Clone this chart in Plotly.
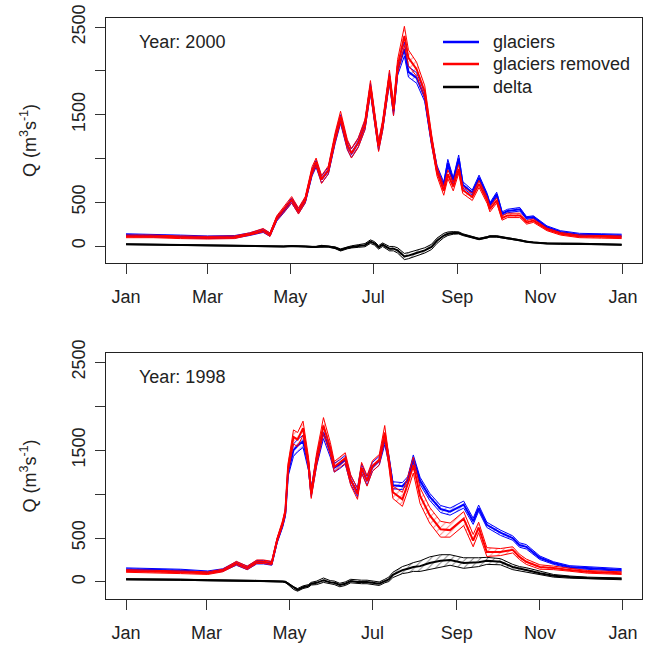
import pandas as pd
import plotly.graph_objects as go

# ---------------- data ----------------
# Year 2000 panel: day offsets from 1 Jan 2000
T_DAYS = [0, 20, 40, 60, 80, 91, 101, 106, 111, 116, 122, 127, 132, 137, 140, 144, 149, 154, 158, 163,
          166, 171, 176, 180, 183, 186, 189, 194, 197, 200, 205, 208, 214, 220, 225, 229, 234, 237, 241, 245,
          248, 255, 260, 266, 268, 273, 277, 281, 290, 295, 300, 310, 320, 334, 350, 365]
T_GLAC = [125, 120, 110, 100, 105, 135, 175, 130, 310, 400, 520, 400, 520, 840, 940, 760, 860, 1220, 1450, 1150,
          1060, 1180, 1380, 1800, 1490, 1140, 1370, 1920, 1540, 2010, 2250, 1990, 1920, 1700, 1200, 880, 690, 950, 740, 1000,
          700, 610, 780, 570, 470, 590, 370, 400, 420, 320, 330, 215, 160, 130, 125, 120]
T_REM = [110, 110, 100, 95, 100, 135, 180, 130, 320, 410, 530, 400, 530, 860, 960, 760, 870, 1240, 1480, 1160,
         1060, 1180, 1390, 1820, 1500, 1140, 1380, 1940, 1560, 2050, 2400, 2150, 2020, 1760, 1220, 850, 630, 820, 680, 880,
         640, 560, 710, 520, 420, 520, 320, 350, 350, 270, 290, 190, 140, 110, 105, 100]
T_DELTA = [20, 15, 10, 5, 3, 0, 0, 0, -5, -5, 0, 0, -5, -10, -10, 0, -5, -20, -45, -20,
           -10, 0, 10, 50, 30, -15, 15, -30, -30, -50, -120, -110, -80, -50, -10, 60, 120, 140, 150, 150,
           130, 100, 80, 100, 110, 110, 100, 95, 65, 50, 40, 30, 25, 25, 20, 15]
# ensemble half-spreads
T_GLAC_SP = [15, 15, 15, 15, 15, 15, 20, 20, 25, 25, 30, 30, 30, 40, 40, 40, 40, 50, 50, 50,
             50, 50, 50, 60, 50, 50, 50, 60, 50, 60, 80, 60, 60, 50, 50, 40, 40, 40, 40, 40,
             35, 30, 30, 30, 25, 25, 20, 20, 20, 15, 15, 15, 15, 15, 15, 15]
T_REM_SP = [15, 15, 15, 15, 15, 15, 20, 20, 25, 30, 35, 35, 35, 45, 45, 45, 45, 55, 60, 55,
            55, 55, 60, 70, 60, 60, 60, 70, 70, 80, 110, 90, 80, 70, 60, 50, 50, 50, 50, 50,
            40, 40, 40, 35, 30, 30, 25, 25, 25, 20, 20, 15, 15, 15, 15, 15]
T_DELTA_SP = [4, 4, 4, 4, 4, 4, 4, 4, 5, 5, 5, 5, 5, 6, 6, 8, 8, 10, 12, 12,
              12, 15, 18, 20, 20, 20, 20, 25, 25, 30, 35, 35, 30, 30, 30, 30, 25, 20, 15, 12,
              10, 8, 8, 8, 8, 8, 8, 6, 6, 6, 5, 5, 5, 5, 5, 5]

# Year 1998 panel: day offsets from 1 Jan 1998
B_DAYS = [0, 20, 40, 60, 71, 81, 89, 96, 101, 107, 111, 115, 117, 119, 123, 126, 130, 134, 136, 140,
          145, 150, 153, 157, 161, 165, 170, 173, 177, 181, 186, 190, 193, 196, 203, 207, 211, 216, 223, 231,
          238, 248, 255, 259, 265, 275, 284, 289, 294, 304, 314, 326, 339, 364]
B_GLAC = [145, 140, 130, 110, 135, 210, 160, 225, 225, 210, 470, 650, 780, 1250, 1500, 1550, 1600, 1330, 1020, 1380,
          1700, 1480, 1300, 1340, 1390, 1160, 1020, 1290, 1150, 1310, 1380, 1620, 1400, 1100, 1090, 1160, 1400, 1150, 970, 830,
          800, 880, 690, 840, 650, 560, 500, 420, 400, 275, 215, 170, 160, 137]
B_REM = [125, 120, 110, 100, 130, 215, 160, 230, 230, 215, 480, 670, 800, 1300, 1650, 1620, 1750, 1350, 1000, 1400,
         1780, 1520, 1310, 1360, 1410, 1160, 1000, 1300, 1150, 1320, 1390, 1700, 1390, 1020, 940, 1120, 1330, 980, 760, 600,
         590, 720, 470, 620, 340, 340, 365, 285, 230, 170, 160, 137, 115, 100]
B_DELTA = [30, 30, 25, 20, 20, 15, 15, 12, 10, 10, 10, 5, 0, -20, -70, -90, -60, -45, -20, -10,
           20, -5, -10, -35, -20, 10, 0, 0, 0, -10, -20, 10, 30, 80, 135, 150, 170, 180, 215, 240,
           250, 215, 220, 225, 240, 230, 170, 150, 137, 100, 70, 55, 45, 35]
B_GLAC_SP = [15, 15, 15, 15, 15, 20, 20, 20, 20, 20, 25, 30, 35, 50, 70, 70, 70, 60, 50, 60,
             70, 60, 50, 50, 50, 50, 50, 50, 50, 50, 50, 60, 50, 40, 40, 40, 45, 40, 40, 40,
             40, 40, 35, 35, 30, 30, 25, 25, 25, 20, 15, 15, 15, 15]
B_REM_SP = [15, 15, 15, 15, 15, 20, 20, 20, 20, 20, 25, 30, 35, 50, 80, 80, 80, 70, 50, 70,
            90, 70, 60, 60, 60, 60, 60, 60, 60, 60, 60, 80, 70, 70, 80, 80, 90, 90, 90, 90,
            80, 80, 70, 60, 50, 40, 35, 30, 30, 25, 20, 15, 15, 15]
B_DELTA_SP = [6, 6, 6, 6, 6, 6, 6, 6, 6, 6, 6, 6, 8, 10, 15, 15, 15, 15, 15, 20,
              25, 20, 20, 20, 20, 20, 20, 20, 20, 20, 20, 20, 25, 30, 40, 45, 50, 60, 70, 70,
              60, 60, 50, 50, 40, 35, 30, 25, 25, 20, 15, 12, 10, 10]

SERIES_NAMES = ["glaciers", "glaciers removed", "delta"]
COLORS = ["#0000FF", "#FF0000", "#000000"]
Y_TICKS = [0, 500, 1500, 2500]
Y_TICKTEXT = ["0", "500", "1500", "2500"]
Y_MINOR = [1000, 2000]

FONT = "Liberation Sans, Arial, sans-serif"
TXT = "#222"

W, H = 648, 646
ML, MR, MT, MB = 106, 6, 18, 47
PW, PH = W - ML - MR, H - MT - MB


def px(xp):
    return (xp - ML) / PW


def py(yp):
    return (H - MB - yp) / PH


fig = go.Figure()


def add_band(days, center, spread, year, color, xa, ya):
    x = pd.Timestamp(f"{year}-01-01") + pd.to_timedelta(days, unit="D")
    lo = [c - s for c, s in zip(center, spread)]
    hi = [c + s for c, s in zip(center, spread)]
    fig.add_trace(go.Scatter(x=x, y=lo, mode="lines", line=dict(color=color, width=1),
                             showlegend=False, hoverinfo="skip", xaxis=xa, yaxis=ya))
    fig.add_trace(go.Scatter(x=x, y=hi, mode="lines", line=dict(color=color, width=1),
                             fill="tonexty", fillcolor="rgba(0,0,0,0)",
                             fillpattern=dict(shape="/", fgcolor=color, bgcolor="rgba(0,0,0,0)",
                                              size=5, solidity=0.18),
                             showlegend=False, hoverinfo="skip", xaxis=xa, yaxis=ya))
    fig.add_trace(go.Scatter(x=x, y=center, mode="lines", line=dict(color=color, width=2),
                             showlegend=False, hoverinfo="skip", xaxis=xa, yaxis=ya))


panels = [
    ("2000", T_DAYS, [T_GLAC, T_REM, T_DELTA], [T_GLAC_SP, T_REM_SP, T_DELTA_SP], "x", "y"),
    ("1998", B_DAYS, [B_GLAC, B_REM, B_DELTA], [B_GLAC_SP, B_REM_SP, B_DELTA_SP], "x2", "y2"),
]
for year, days, vals, sps, xa, ya in panels:
    for v, sp, col in zip(vals, sps, COLORS):
        add_band(days, v, sp, year, col, xa, ya)

axis_common = dict(showline=True, mirror=True, linecolor="#222", linewidth=1.3,
                   ticks="outside", ticklen=10, tickcolor="#333", tickwidth=1.2,
                   showgrid=False, zeroline=False, automargin=False,
                   tickfont=dict(family=FONT, size=18, color=TXT))

xranges = {"2000": ["1999-12-17 06:00", "2001-01-15 00:00"],
           "1998": ["1997-12-17 06:00", "1999-01-15 00:00"]}

ytitle = "Q (m<sup>3</sup>s<sup>-1</sup>)"


def xaxis_for(year, anchor):
    return dict(domain=[0, 1], anchor=anchor, range=xranges[year], tickformat="%b",
                dtick="M2", tick0=f"{year}-01-01", ticklabelstandoff=7,
                ticklabeloverflow="allow", **axis_common)


def yaxis_for(domain, anchor):
    return dict(domain=domain, anchor=anchor, range=[-194, 2605], tickvals=Y_TICKS,
                ticktext=Y_TICKTEXT, tickangle=-90, ticklabelstandoff=3,
                minor=dict(tickvals=Y_MINOR, ticks="outside", ticklen=10, tickcolor="#333",
                           tickwidth=1.2, showgrid=False),
                title=dict(text=ytitle, font=dict(family=FONT, size=18, color=TXT), standoff=27),
                **axis_common)


# manual legend (R style, no box)
shapes = []
annotations = []
for name, col, yrow in zip(SERIES_NAMES, COLORS, [42, 64, 87]):
    shapes.append(dict(type="line", xref="paper", yref="paper", x0=px(443), x1=px(479),
                       y0=py(yrow), y1=py(yrow), line=dict(color=col, width=2.6)))
    annotations.append(dict(text=name, xref="paper", yref="paper", x=px(491), y=py(yrow),
                            xanchor="left", yanchor="middle", showarrow=False,
                            font=dict(family=FONT, size=18, color=TXT)))

annotations += [
    dict(text="Year: 2000", xref="x domain", yref="y domain", x=0.058, y=0.902,
         xanchor="left", yanchor="middle", showarrow=False,
         font=dict(family=FONT, size=18, color=TXT)),
    dict(text="Year: 1998", xref="x2 domain", yref="y2 domain", x=0.058, y=0.902,
         xanchor="left", yanchor="middle", showarrow=False,
         font=dict(family=FONT, size=18, color=TXT)),
]

fig.update_layout(
    width=W, height=H,
    margin=dict(l=ML, r=MR, t=MT, b=MB),
    paper_bgcolor="white", plot_bgcolor="white",
    font=dict(family=FONT, size=18, color=TXT),
    showlegend=False,
    xaxis=xaxis_for("2000", "y"),
    yaxis=yaxis_for([py(263), 1], "x"),
    xaxis2=xaxis_for("1998", "y2"),
    yaxis2=yaxis_for([0, py(353)], "x2"),
    shapes=shapes,
    annotations=annotations,
)

fig.write_html("out.html",
               config={"displayModeBar": False},
               post_script="document.body.style.margin='0px';document.body.style.overflow='hidden';")
